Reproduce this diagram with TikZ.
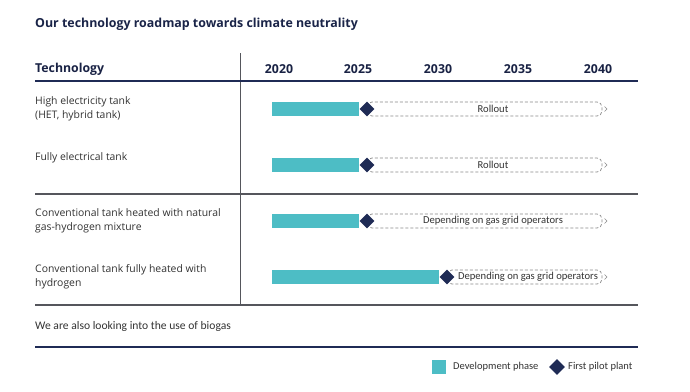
\documentclass[tikz,border=0pt]{standalone}
\usepackage{fontspec}
\setmainfont{Open Sans}
\newfontfamily\narrowfont{Carlito}
\usetikzlibrary{shapes.geometric}
\definecolor{navy}{HTML}{1F2B55}
\definecolor{teal}{HTML}{4DBDC5}
\definecolor{txt}{HTML}{333333}
\definecolor{rule}{HTML}{55565C}
\definecolor{dash}{HTML}{8A8A8A}
\tikzset{
  lbl/.style={anchor=west,inner sep=0pt,text=txt,font=\fontsize{10.4}{14}\selectfont,align=left},
  hdr/.style={inner sep=0pt,text=navy!80!black,font=\fontsize{12.3}{14}\selectfont\bfseries},
  devbar/.style={fill=teal,draw=none},
  milestone/.style={diamond,fill=navy,draw=none,minimum width=15pt,minimum height=15pt,inner sep=0pt},
  rollbox/.style={draw=dash,dashed,dash pattern=on 3pt off 2pt,rounded corners=5pt,line width=0.7pt},
  rolltext/.style={inner sep=0pt,text=txt,font=\narrowfont\fontsize{10.6}{13}\selectfont},
  chev/.style={draw=dash,line width=0.6pt},
  thick rule/.style={draw=navy,line width=2pt},
  thin rule/.style={draw=rule,line width=1.3pt},
  small/.style={anchor=west,inner sep=0pt,text=txt,font=\narrowfont\fontsize{11.6}{13}\selectfont},
  legtext/.style={anchor=west,inner sep=0pt,text=txt,font=\narrowfont\fontsize{10.5}{12}\selectfont},
}
\begin{document}
\begin{tikzpicture}[x=1pt,y=-1pt]
\useasboundingbox[fill=white] (0,0) rectangle (690,391);
% title
\node[anchor=west,inner sep=0pt,text=navy!85!black,font=\fontsize{12.4}{14}\selectfont\bfseries] (title) at (35,24) {Our technology roadmap towards climate neutrality};
% vertical divider
\draw[draw=rule,line width=0.7pt] (240,53) -- (240,304);
% header
\node[hdr,anchor=west] (th) at (35,69) {Technology};
\node[hdr] (y2020) at (279,69) {2020};
\node[hdr] (y2025) at (358,69) {2025};
\node[hdr] (y2030) at (438,69) {2030};
\node[hdr] (y2035) at (518,69) {2035};
\node[hdr] (y2040) at (598,69) {2040};
\draw[thick rule] (35,81) -- (638,81);
% row labels
\node[lbl] (r1) at (35,109) {High electricity tank\\(HET, hybrid tank)};
\node[lbl] (r2) at (35,158) {Fully electrical tank};
\draw[thin rule] (35,194) -- (638,194);
\node[lbl] (r3) at (35,221) {Conventional tank heated with natural\\gas-hydrogen mixture};
\node[lbl] (r4) at (35,277) {Conventional tank fully heated with\\hydrogen};
\draw[thin rule] (35,305) -- (638,305);
% bars
\foreach \n/\y/\e/\t/\tx in {1/109/367/Rollout/493, 2/165/367/Rollout/493, 3/221/367/Depending on gas grid operators/493, 4/277/447/Depending on gas grid operators/528}{
  \draw[rollbox] (\e,\y-7) rectangle (602,\y+7);
  \draw[chev] (604.5,\y-2.5) -- (607,\y) -- (604.5,\y+2.5);
  \fill[devbar] (272,\y-7) rectangle (\e-8,\y+7);
  \node[milestone] (m\n) at (\e,\y) {};
  \node[rolltext] (t\n) at (\tx,\y) {\t};
}
% footer
\node[small] (bio) at (35,326.5) {We are also looking into the use of biogas};
\draw[thick rule] (35,347) -- (638,347);
% legend
\fill[teal] (432,360) rectangle (446,374);
\node[legtext] (leg1) at (453,367) {Development phase};
\node[milestone,minimum width=16pt,minimum height=16pt] (legm) at (557,367) {};
\node[legtext] (leg2) at (568,367) {First pilot plant};
\end{tikzpicture}
\end{document}
